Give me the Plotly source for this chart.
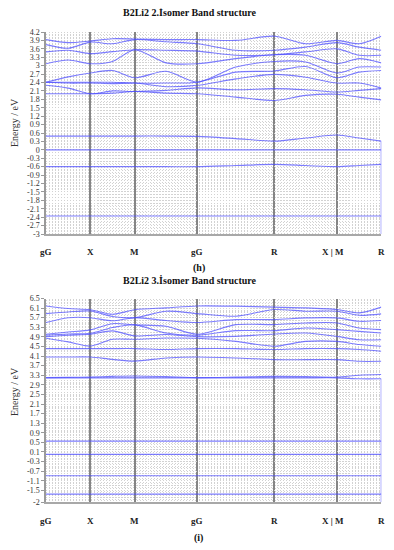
import numpy as np
import plotly.graph_objects as go

# ---------------- data ----------------
K_NODES = [0.0, 0.5, 1.0, 1.7071, 2.5731, 3.2802, 3.7802]   # simple-cubic path lengths
K_LABELS = ["gG", "X", "M", "gG", "R", "X | M", "R"]

TITLE_H = "B2Li2 2.İsomer Band structure"
TITLE_I = "B2Li2 3.İsomer Band structure"

# energies (eV) sampled at every node and segment midpoint (13 samples)
# panel (h)
h_b1 = [2.00, 2.00, 2.00, 2.02, 2.08, 2.02, 2.00, 1.88, 1.76, 1.94, 1.98, 1.88, 1.78]
h_b2 = [2.30, 2.20, 2.00, 2.10, 2.08, 2.12, 2.21, 2.14, 2.18, 2.14, 2.06, 2.12, 2.18]
h_b3 = [2.41, 2.38, 2.38, 2.36, 2.38, 2.25, 2.30, 2.53, 2.69, 2.59, 2.38, 2.38, 2.20]
h_b4 = [2.41, 2.41, 2.41, 2.41, 2.38, 2.38, 2.41, 2.77, 2.81, 2.97, 2.57, 2.77, 2.83]
h_b5 = [2.41, 2.60, 2.74, 2.83, 2.57, 2.80, 2.41, 2.95, 3.15, 3.13, 2.74, 2.95, 2.95]
h_b6 = [3.07, 3.20, 3.07, 3.15, 3.57, 3.10, 3.07, 3.25, 3.39, 3.37, 3.07, 3.25, 3.10]
h_b7 = [3.49, 3.55, 3.43, 3.50, 3.57, 3.55, 3.52, 3.37, 3.39, 3.49, 3.60, 3.37, 3.37]
h_b8 = [3.75, 3.62, 3.84, 3.78, 3.93, 3.85, 3.78, 3.55, 3.55, 3.66, 3.82, 3.66, 3.55]
h_b9 = [3.93, 3.82, 3.88, 3.96, 3.95, 3.93, 3.93, 3.90, 4.05, 3.78, 3.90, 3.78, 4.05]
h_v1 = [0.49, 0.49, 0.49, 0.49, 0.49, 0.49, 0.48, 0.40, 0.31, 0.42, 0.53, 0.42, 0.31]
h_v0 = [0.00, 0.00, 0.00, 0.00, 0.00, 0.00, 0.00, 0.00, 0.00, 0.00, 0.00, 0.00, 0.00]
h_v2 = [-0.60, -0.60, -0.60, -0.60, -0.60, -0.60, -0.60, -0.56, -0.52, -0.56, -0.60, -0.56, -0.52]
h_v3 = [-2.36, -2.36, -2.36, -2.36, -2.36, -2.36, -2.36, -2.36, -2.36, -2.36, -2.36, -2.36, -2.36]

# panel (i)
i_b1 = [4.06, 4.06, 4.06, 3.96, 3.89, 4.02, 4.06, 4.02, 3.95, 3.95, 3.95, 3.88, 3.88]
i_b2 = [4.41, 4.41, 4.41, 4.41, 4.41, 4.37, 4.41, 4.41, 4.37, 4.41, 4.41, 4.37, 4.30]
i_b3 = [4.84, 4.69, 4.52, 4.80, 4.80, 4.85, 4.84, 4.71, 4.51, 4.71, 4.71, 4.58, 4.51]
i_b4 = [4.91, 4.97, 5.01, 5.15, 4.94, 5.00, 4.91, 4.92, 5.02, 5.06, 4.92, 4.78, 4.78]
i_b5 = [4.97, 5.02, 5.05, 5.29, 5.40, 5.06, 4.97, 5.16, 5.16, 5.27, 5.20, 5.13, 5.06]
i_b6 = [5.01, 5.10, 5.19, 5.45, 5.40, 5.34, 5.01, 5.41, 5.41, 5.48, 5.48, 5.27, 5.20]
i_b7 = [5.50, 5.70, 5.70, 5.57, 5.70, 5.58, 5.50, 5.62, 5.62, 5.69, 5.69, 5.55, 5.58]
i_b8 = [5.87, 5.94, 5.98, 5.75, 5.70, 5.97, 5.87, 5.76, 6.04, 5.97, 5.97, 5.80, 5.86]
i_b9 = [6.19, 6.08, 6.03, 5.84, 6.03, 6.11, 6.19, 6.18, 6.14, 6.11, 6.04, 5.90, 6.14]
i_p1 = [3.19, 3.19, 3.19, 3.19, 3.19, 3.19, 3.19, 3.19, 3.19, 3.19, 3.19, 3.15, 3.15]
i_p2 = [3.20, 3.21, 3.22, 3.25, 3.27, 3.24, 3.20, 3.22, 3.25, 3.24, 3.22, 3.30, 3.33]
i_v1 = [0.55, 0.55, 0.55, 0.55, 0.55, 0.55, 0.55, 0.55, 0.55, 0.55, 0.55, 0.55, 0.55]
i_v0 = [0.00, 0.00, 0.00, 0.00, 0.00, 0.00, 0.00, 0.00, 0.00, 0.00, 0.00, 0.00, 0.00]
i_v2 = [-0.89, -0.89, -0.89, -0.89, -0.89, -0.89, -0.89, -0.89, -0.89, -0.89, -0.89, -0.89, -0.89]
i_v3 = [-1.66, -1.66, -1.66, -1.66, -1.66, -1.66, -1.66, -1.66, -1.66, -1.66, -1.66, -1.66, -1.66]

H_TICKS = [4.2, 3.9, 3.6, 3.3, 3, 2.7, 2.4, 2.1, 1.8, 1.5, 1.2, 0.9, 0.6, 0.3, 0,
           -0.3, -0.6, -0.9, -1.2, -1.5, -1.8, -2.1, -2.4, -2.7, -3]
I_TICKS = [6.5, 6.1, 5.7, 5.3, 4.9, 4.5, 4.1, 3.7, 3.3, 2.9, 2.5, 2.1, 1.7, 1.3, 0.9,
           0.5, 0.1, -0.3, -0.7, -1.1, -1.5, -2]

# ---------------- build ----------------
K_PATH = []
for a, b in zip(K_NODES[:-1], K_NODES[1:]):
    K_PATH += [a, (a + b) / 2]
K_PATH.append(K_NODES[-1])

OFF = 8                      # default page margin of the html body
W, H = 394 - OFF, 550 - OFF  # figure size so that the page fits the window


def px(x):   # reference page x-pixel -> paper
    return (x - OFF) / W


def py(y):   # reference page y-pixel -> paper
    return 1 - (y - OFF) / H


SERIF = "Liberation Serif, Times New Roman, serif"
LINE = "rgba(75,75,255,0.72)"
GRID = "#d2d2d2"
GDASH = "1px,2px"

fig = go.Figure()


def add_bands(bands, xa, ya):
    for b in bands:
        fig.add_trace(go.Scatter(
            x=K_PATH, y=b, mode="lines", xaxis=xa, yaxis=ya,
            line=dict(color=LINE, width=1.1, shape="spline", smoothing=0.8),
            hoverinfo="skip", showlegend=False))


add_bands([h_b1, h_b2, h_b3, h_b4, h_b5, h_b6, h_b7, h_b8, h_b9,
           h_v1, h_v0, h_v2, h_v3], "x", "y")
add_bands([i_b1, i_b2, i_b3, i_b4, i_b5, i_b6, i_b7, i_b8, i_b9,
           i_p1, i_p2, i_v1, i_v0, i_v2, i_v3], "x2", "y2")

xdom = [px(46), px(381.3)]


def xaxis(anchor):
    return dict(domain=xdom, range=[0, K_NODES[-1]], anchor=anchor, automargin=False,
                tickmode="array", tickvals=K_NODES, showticklabels=False,
                ticks="", showgrid=True, gridcolor="#858585", gridwidth=1.5,
                minor=dict(tickmode="linear", tick0=0, dtick=0.0345, showgrid=True,
                           gridcolor=GRID, griddash=GDASH, gridwidth=1),
                zeroline=False, showline=True, linecolor="#a8a8a8", linewidth=2,
                mirror=False)


def yaxis(anchor, dom, rng, ticks, mdt):
    return dict(domain=dom, range=rng, anchor=anchor, automargin=False,
                tickmode="array",
                tickvals=ticks, ticktext=[f"{v:g}" for v in ticks],
                tickfont=dict(family=SERIF, size=8, color="#333"),
                ticks="outside", ticklen=3, tickcolor="#999",
                showgrid=True, gridcolor=GRID, griddash=GDASH, gridwidth=1,
                minor=dict(tickmode="linear", tick0=0, dtick=mdt, showgrid=True,
                           gridcolor=GRID, griddash=GDASH, gridwidth=1),
                zeroline=False, showline=True, linecolor="#9a9a9a", linewidth=1.5)


fig.update_layout(
    width=W, height=H, margin=dict(l=0, r=0, t=0, b=0),
    paper_bgcolor="white", plot_bgcolor="white",
    xaxis=xaxis("y"),
    yaxis=yaxis("x", [py(234), py(32)], [-3, 4.2], H_TICKS, 0.1),
    xaxis2=xaxis("y2"),
    yaxis2=yaxis("x2", [py(502.3), py(298.5)], [-2, 6.5], I_TICKS, 0.1),
)

ann = []
ann.append(dict(text="<b>" + TITLE_H + "</b>", x=px(190), y=py(13)))
ann.append(dict(text="<b>" + TITLE_I + "</b>", x=px(190), y=py(280)))
ann.append(dict(text="<b>(h)</b>", x=px(199), y=py(268)))
ann.append(dict(text="<b>(i)</b>", x=px(198), y=py(538)))
for a in ann:
    a.update(font=dict(family=SERIF, size=10, color="#111"))
for ypix in (252, 521):
    for k, lab in zip(K_NODES, K_LABELS):
        xp = xdom[0] + (xdom[1] - xdom[0]) * k / K_NODES[-1]
        ann.append(dict(text="<b>" + lab + "</b>", x=xp, y=py(ypix),
                        xshift=-4 if "|" in lab else 0,
                        font=dict(family=SERIF, size=9, color="#222")))
for ypix in (123, 392):
    ann.append(dict(text="Energy / eV", x=px(14), y=py(ypix), textangle=-90,
                    font=dict(family=SERIF, size=10, color="#333")))
for a in ann:
    a.update(xref="paper", yref="paper", showarrow=False,
             xanchor="center", yanchor="middle")
fig.update_layout(annotations=ann)

# blue edge lines at the right end of the path
fig.add_shape(type="line", xref="x", yref="y", x0=K_NODES[-1], x1=K_NODES[-1],
              y0=h_v1[-1], y1=-3, line=dict(color=LINE, width=1.2))
fig.add_shape(type="line", xref="x2", yref="y2", x0=K_NODES[-1], x1=K_NODES[-1],
              y0=i_p1[-1], y1=-2, line=dict(color=LINE, width=1.2))

fig.write_html("out.html")
